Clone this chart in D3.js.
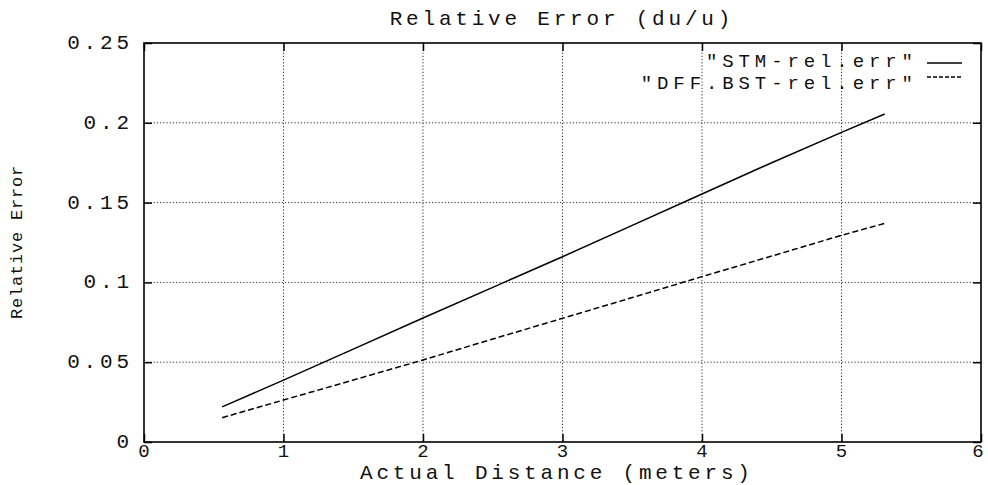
<!DOCTYPE html>
<html><head><meta charset="utf-8">
<script src="https://cdn.jsdelivr.net/npm/d3@7/dist/d3.min.js"></script>
<style>
body{margin:0;background:#fff;}
text{font-family:"Liberation Mono","DejaVu Sans Mono",monospace;fill:#111;}
</style></head>
<body><svg id="c" width="988" height="485"></svg>
<script>
const xTicks = [0,1,2,3,4,5,6];
const yTicks = [0,0.05,0.1,0.15,0.2,0.25];
const yTickLabels = ["0","0.05","0.1","0.15","0.2","0.25"];
const distance = [0.56,1,1.5,2,2.5,3,3.5,4,4.5,5,5.31];
const stmErr = [0.022,0.0388,0.0582,0.0777,0.0969,0.1161,0.1357,0.1554,0.175,0.194,0.2055];
const dffErr = [0.0152,0.0263,0.0388,0.0514,0.0645,0.0775,0.0905,0.1036,0.1165,0.1295,0.137];
const seriesNames = ['"STM-rel.err"','"DFF.BST-rel.err"'];
const title = "Relative Error (du/u)";
const xTitle = "Actual Distance (meters)";
const yTitle = "Relative Error";

const svg = d3.select("#c");
const L=144,R=981,T=43,B=442;
const x = d3.scaleLinear().domain([0,6]).range([L,R]);
const y = d3.scaleLinear().domain([0,0.25]).range([B,T]);
const FS=21, LS=3.8;

// grid
const g = svg.append("g");
g.selectAll(".gx").data(xTicks.slice(1,-1)).enter().append("line")
  .attr("x1",d=>x(d)).attr("x2",d=>x(d)).attr("y1",T).attr("y2",B)
  .attr("stroke","#333").attr("stroke-width",1).attr("stroke-dasharray","1.2,2");
g.selectAll(".gy").data(yTicks.slice(1,-1)).enter().append("line")
  .attr("y1",d=>y(d)).attr("y2",d=>y(d)).attr("x1",L).attr("x2",R)
  .attr("stroke","#333").attr("stroke-width",1).attr("stroke-dasharray","1.2,2");

// axes with inward ticks
const ax = svg.append("g");
ax.append("g").attr("transform",`translate(0,${B})`).call(d3.axisBottom(x).tickValues(xTicks).tickSize(-8).tickFormat("")).call(s=>s.select(".domain").remove());
ax.append("g").attr("transform",`translate(0,${T})`).call(d3.axisTop(x).tickValues(xTicks).tickSize(-8).tickFormat("")).call(s=>s.select(".domain").remove());
ax.append("g").attr("transform",`translate(${L},0)`).call(d3.axisLeft(y).tickValues(yTicks).tickSize(-8).tickFormat("")).call(s=>s.select(".domain").remove());
ax.append("g").attr("transform",`translate(${R},0)`).call(d3.axisRight(y).tickValues(yTicks).tickSize(-8).tickFormat("")).call(s=>s.select(".domain").remove());
ax.selectAll(".tick line").attr("stroke","#000").attr("stroke-width",1.5);

svg.append("rect").attr("x",L).attr("y",T).attr("width",R-L).attr("height",B-T)
  .attr("fill","none").attr("stroke","#000").attr("stroke-width",1.6);

// tick labels
svg.selectAll(".xl").data(xTicks).enter().append("text")
  .attr("x",d=>Math.min(x(d),978)).attr("y",457).attr("text-anchor","middle")
  .attr("font-size",19).text(d=>d);
svg.selectAll(".yl").data(yTicks).enter().append("text")
  .attr("x",129+LS).attr("y",d=>y(d)+6).attr("text-anchor","end")
  .attr("font-size",FS).attr("letter-spacing",LS).text((d,i)=>yTickLabels[i]);

// titles
svg.append("text").attr("x",560+LS/2).attr("y",25).attr("text-anchor","middle")
  .attr("font-size",FS).attr("letter-spacing",LS).text(title);
svg.append("text").attr("x",555+LS/2).attr("y",479).attr("text-anchor","middle")
  .attr("font-size",FS).attr("letter-spacing",LS).text(xTitle);
svg.append("text").attr("transform","translate(22,242) rotate(-90)").attr("text-anchor","middle")
  .attr("font-size",17).attr("letter-spacing",0.8).text(yTitle);

// lines
const line = d3.line().x((d,i)=>x(distance[i])).y(d=>y(d));
svg.append("path").datum(stmErr).attr("d",line).attr("fill","none").attr("stroke","#000").attr("stroke-width",1.5);
svg.append("path").datum(dffErr).attr("d",line).attr("fill","none").attr("stroke","#000").attr("stroke-width",1.5).attr("stroke-dasharray","6,3");

// legend
const LFS=19, LLS=4.9;
const legY=[63,77], txtY=[67,89];
seriesNames.forEach((n,i)=>{
  svg.append("text").attr("x",913+LLS).attr("y",txtY[i]).attr("text-anchor","end")
    .attr("font-size",LFS).attr("letter-spacing",LLS).text(n);
  svg.append("line").attr("x1",927).attr("x2",962).attr("y1",legY[i]).attr("y2",legY[i])
    .attr("stroke","#000").attr("stroke-width",1.3).attr("stroke-dasharray",i?"4,2":null);
});
</script></body></html>
